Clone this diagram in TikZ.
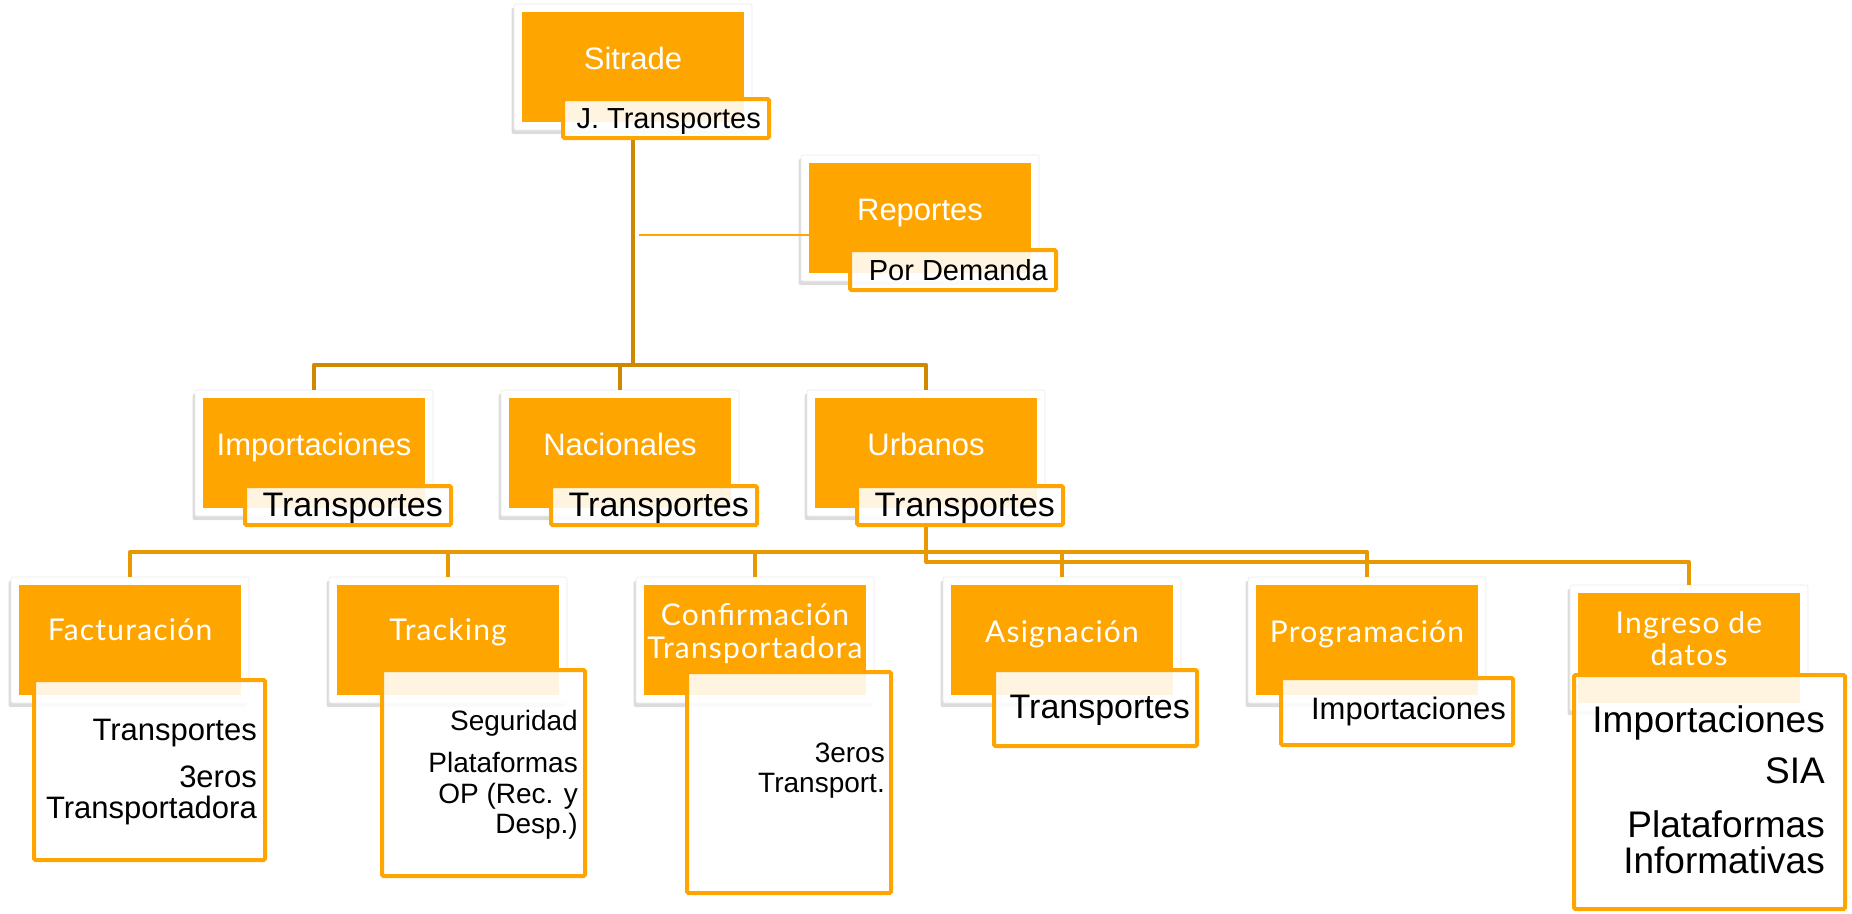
\documentclass[tikz,border=0pt]{standalone}
\usepackage{fontspec}
\setmainfont{Liberation Sans}
\newfontfamily\tfont[LetterSpace=4]{Lato}
\usetikzlibrary{shadows}
\newcommand\fsz[1]{\fontsize{#1}{#1}\selectfont}
\definecolor{org}{RGB}{255,165,0}
\definecolor{conA}{RGB}{208,136,0}
\definecolor{conB}{RGB}{232,152,0}
\begin{document}
\begin{tikzpicture}[x=1pt,y=-1pt,
  frame/.style={fill=white, draw=black!8, line width=0.6pt, rounded corners=2pt,
    minimum width=238pt, minimum height=126pt, inner sep=0pt,
    drop shadow={shadow xshift=-2.5pt, shadow yshift=-4pt, opacity=0.28}},
  obox/.style={fill=org, minimum width=222pt, minimum height=110pt, inner sep=0pt},
  lab/.style={draw=org, line width=4pt, fill=white, fill opacity=0.88,
    rounded corners=1.5pt, inner sep=0pt},
  ttl/.style={text=white, font=\fsz{31}, anchor=base, inner sep=0pt},
  ttlb/.style={text=white, font=\tfont\fsz{30}, anchor=base, inner sep=0pt},
  ltxt/.style={text=black, anchor=base east, inner sep=0pt},
  cA/.style={draw=conA, line width=4.5pt, line join=round},
  cB/.style={draw=conB, line width=4pt, line join=round},
  thinc/.style={draw=org, line width=1.6pt}]
\useasboundingbox (0,0) rectangle (1852,913);

% ---------- coordinates for buses ----------
\coordinate (busA) at (633,365);
\coordinate (busB1) at (926,552);
\coordinate (busB2) at (926,562);

% ---------- level 1 / 2 frames and boxes ----------
\node[frame] (sitf) at (633,67) {};
\node[frame] (repf) at (920,218) {};
\node[frame] (impf) at (314,453) {};
\node[frame] (nacf) at (620,453) {};
\node[frame] (urbf) at (926,453) {};
\node[obox] (sito) at (633,67) {};
\node[obox] (repo) at (920,218) {};
\node[obox] (impo) at (314,453) {};
\node[obox] (naco) at (620,453) {};
\node[obox] (urbo) at (926,453) {};

% ---------- level 3 frames and boxes ----------
\node[frame] (facf) at (130,640) {};
\node[frame] (traf) at (448,640) {};
\node[frame] (conf) at (755,640) {};
\node[frame] (asif) at (1062,640) {};
\node[frame] (prof) at (1367,640) {};
\node[frame] (ingf) at (1689,648) {};
\node[obox] (faco) at (130,640) {};
\node[obox] (trao) at (448,640) {};
\node[obox] (cono) at (755,640) {};
\node[obox] (asio) at (1062,640) {};
\node[obox] (proo) at (1367,640) {};
\node[obox] (ingo) at (1689,648) {};

% ---------- label boxes ----------
\node[lab, minimum width=206pt, minimum height=39pt] (sitl) at (666,118.5) {};
\node[lab, minimum width=206pt, minimum height=40pt] (repl) at (953,270) {};
\node[lab, minimum width=206pt, minimum height=39pt] (impl) at (348,505.5) {};
\node[lab, minimum width=206pt, minimum height=39pt] (nacl) at (654,505.5) {};
\node[lab, minimum width=206pt, minimum height=39pt] (urbl) at (960,505.5) {};

% ---------- connectors ----------
\draw[cA] (sitl.south -| sito.center) -- (busA) -| (impf.north);
\draw[cA] (busA) -| (nacf.north);
\draw[cA] (busA) -| (urbf.north);
\draw[cB] (urbl.south -| urbo.center) -- (busB2) -| (ingf.north);
\draw[cB] (busB1) -| (facf.north);
\draw[cB] (busB1) -| (traf.north);
\draw[cB] (busB1) -| (conf.north);
\draw[cB] (busB1) -| (asif.north);
\draw[cB] (busB1) -| (prof.north);
\coordinate (repj) at (639,235);
\draw[thinc] (repj) -- (repj -| repo.west);

% ---------- level-3 label boxes ----------
\node[lab, minimum width=231pt, minimum height=180pt] (facl) at (149.5,770) {};
\node[lab, minimum width=203pt, minimum height=206pt] (tral) at (483.5,773) {};
\node[lab, minimum width=204pt, minimum height=221pt] (conl) at (789,782.5) {};
\node[lab, minimum width=203pt, minimum height=76pt] (asil) at (1095.5,708) {};
\node[lab, minimum width=232pt, minimum height=67pt] (prol) at (1397,711.5) {};
\node[lab, minimum width=271pt, minimum height=234pt] (ingl) at (1709.5,792) {};

% ---------- titles ----------
\node[ttl] (sitt) at (633,69) {Sitrade};
\node[ttl] (rept) at (920,220) {Reportes};
\node[ttl] (impt) at (314,455) {Importaciones};
\node[ttl] (nact) at (620,455) {Nacionales};
\node[ttl] (urbt) at (926,455) {Urbanos};

\node[ttlb] (fact) at (130,640) {Facturación};
\node[ttlb] (trat) at (448,640) {Tracking};
\node[ttlb] (cont1) at (755,625) {Confirmación};
\node[ttlb] (cont2) at (755,658) {Transportadora};
\node[ttlb] (asit) at (1062,642) {Asignación};
\node[ttlb] (prot) at (1367,642) {Programación};
\node[ttlb] (ingt1) at (1689,633) {Ingreso de};
\node[ttlb] (ingt2) at (1689,665) {datos};

% ---------- label texts ----------
\node[ltxt, font=\fsz{29}] (sitx) at (761,128) {J. Transportes};
\node[ltxt, font=\fsz{29}] (repx) at (1048,280) {Por Demanda};
\node[ltxt, font=\fsz{34}] (impx) at (443,516) {Transportes};
\node[ltxt, font=\fsz{34}] (nacx) at (749,516) {Transportes};
\node[ltxt, font=\fsz{34}] (urbx) at (1055,516) {Transportes};

\node[ltxt, font=\fsz{31}] (facx1) at (257,740) {Transportes};
\node[ltxt, font=\fsz{31}] (facx2) at (257,787) {3eros};
\node[ltxt, font=\fsz{31}] (facx3) at (257,818) {Transportadora};

\node[ltxt, font=\fsz{28}] (trax1) at (578,730) {Seguridad};
\node[ltxt, font=\fsz{28}] (trax2) at (578,772) {Plataformas};
\node[ltxt, font=\fsz{28}] (trax3) at (578,803) {OP (Rec. y};
\node[ltxt, font=\fsz{28}] (trax4) at (578,833) {Desp.)};

\node[ltxt, font=\fsz{28}] (conx1) at (885,762) {3eros};
\node[ltxt, font=\fsz{28}] (conx2) at (885,792) {Transport.};

\node[ltxt, font=\fsz{34}] (asix) at (1190,718) {Transportes};
\node[ltxt, font=\fsz{31}] (prox) at (1506,719) {Importaciones};

\node[ltxt, font=\fsz{37}] (ingx1) at (1825,732) {Importaciones};
\node[ltxt, font=\fsz{37}] (ingx2) at (1825,783) {SIA};
\node[ltxt, font=\fsz{37}] (ingx3) at (1825,837) {Plataformas};
\node[ltxt, font=\fsz{37}] (ingx4) at (1825,873) {Informativas};
\end{tikzpicture}
\end{document}
